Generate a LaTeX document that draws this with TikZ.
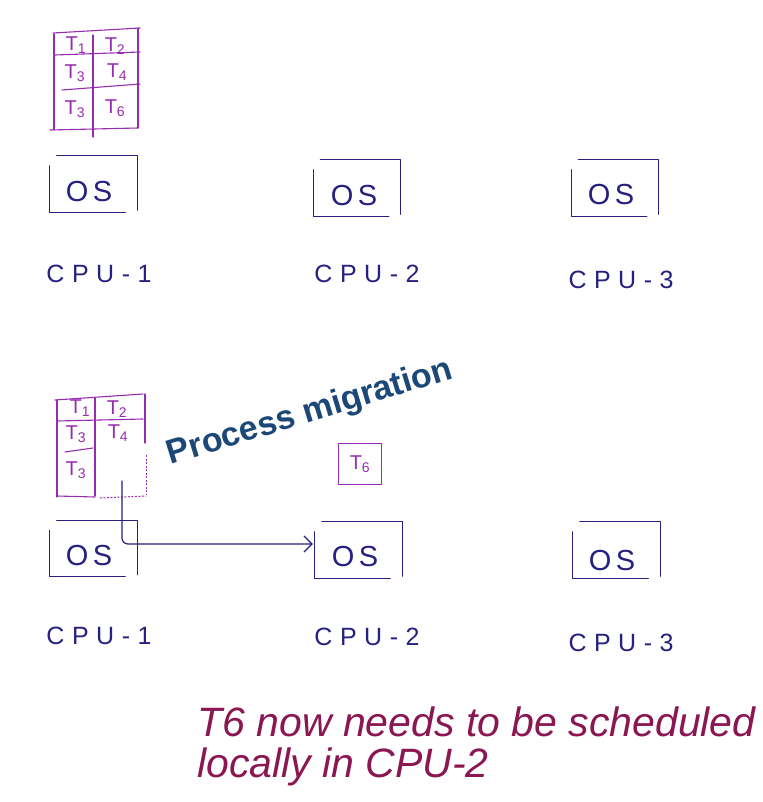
\documentclass[tikz,border=0pt]{standalone}
\usepackage{fontspec}
\setmainfont{Liberation Sans}
\usetikzlibrary{calc,arrows.meta}
\definecolor{hand}{RGB}{38,32,128}
\definecolor{pur}{RGB}{150,45,175}
\definecolor{titleblue}{RGB}{28,72,120}
\definecolor{notecol}{RGB}{138,22,82}
\tikzset{
  handline/.style={draw=hand, line width=1.2pt, line cap=round, line join=round},
  purline/.style={draw=pur, line width=1.1pt, line cap=round, line join=round},
  purdash/.style={draw=pur, line width=1pt, dash pattern=on 2pt off 1.5pt},
  frame/.style={draw=none, inner sep=0pt, minimum width=87pt, minimum height=56pt},
  ostext/.style={text=hand, font=\fontsize{29}{30}\selectfont\addfontfeatures{LetterSpace=15}, inner sep=0pt},
  cpulbl/.style={text=hand, font=\fontsize{25}{26}\selectfont\addfontfeatures{LetterSpace=30}, inner sep=0pt},
  task/.style={text=pur, font=\fontsize{20}{21}\selectfont, inner sep=0pt},
}
\newcommand\handbox[1]{%
  \draw[handline] ([yshift=-10pt]#1.north west) -- (#1.south west) -- ([xshift=-12pt]#1.south east);
  \draw[handline] ([xshift=7pt]#1.north west) -- (#1.north east) -- ([yshift=2pt]#1.south east);}
\begin{document}
\begin{tikzpicture}[x=1pt,y=-1pt]
\useasboundingbox[fill=white] (0,0) rectangle (762,802);

% ---------- top scene ----------
% task table
\draw[purline] (53,33) -- (140,28);
\draw[purline] (54,34) -- (54,130);
\draw[purline] (55,55) -- (140,52);
\draw[purline] (62,90) -- (140,84);
\draw[purline] (93,35) -- (93,137);
\draw[purline] (138,28) -- (138,128);
\draw[purline] (50,130) -- (138,128);
\node[task] (ta1) at (76,45) {T\textsubscript{1}};
\node[task] (ta2) at (115,46) {T\textsubscript{2}};
\node[task] (ta3) at (75,73) {T\textsubscript{3}};
\node[task] (ta4) at (117,72) {T\textsubscript{4}};
\node[task] (ta5) at (75,109) {T\textsubscript{3}};
\node[task] (ta6) at (115,108) {T\textsubscript{6}};

\node[frame] (b1) at (93.5,184) {};
\node[frame] (b2) at (357,188) {};
\node[frame] (b3) at (615,188) {};
\handbox{b1}\handbox{b2}\handbox{b3}
\node[ostext] (o1) at (89,192) {OS};
\node[ostext] (o2) at (354,196) {OS};
\node[ostext] (o3) at (611,195) {OS};
\node[cpulbl] (c1) at (99,274) {CPU-1};
\node[cpulbl] (c2) at (367,274) {CPU-2};
\node[cpulbl] (c3) at (621,280) {CPU-3};

% ---------- bottom scene ----------
\draw[purline] (55,400) -- (143,394);
\draw[purline] (57,400) -- (57,497);
\draw[purline] (57,421) -- (143,419);
\draw[purline] (65,452) -- (93,448);
\draw[purline] (95,398) -- (95,496);
\draw[purline] (145,394) -- (145,443);
\draw[purdash] (146,455) -- (146,495);
\draw[purline] (57,496) -- (95,497);
\draw[purdash] (100,498) -- (146,496);
\node[task] (tb1) at (80,408) {T\textsubscript{1}};
\node[task] (tb2) at (117,409) {T\textsubscript{2}};
\node[task] (tb3) at (76,434) {T\textsubscript{3}};
\node[task] (tb4) at (118,433) {T\textsubscript{4}};
\node[task] (tb5) at (76,470) {T\textsubscript{3}};

\node[task, draw=pur, line width=1.1pt, minimum width=43pt, minimum height=41pt] (t6) at (360,464) {T\textsubscript{6}};

\node[frame] (b4) at (93.5,548.5) {};
\node[frame] (b5) at (358.5,550) {};
\node[frame] (b6) at (616.5,550) {};
\handbox{b4}\handbox{b5}\handbox{b6}
\node[ostext] (o4) at (89,556) {OS};
\node[ostext] (o5) at (355,557) {OS};
\node[ostext] (o6) at (612,561) {OS};
\node[cpulbl] (c4) at (99,636) {CPU-1};
\node[cpulbl] (c5) at (367,637) {CPU-2};
\node[cpulbl] (c6) at (621,643) {CPU-3};

\coordinate (mstart) at (122,481);
\draw[handline, rounded corners=6pt, -{Straight Barb[length=8pt,width=16pt]}, shorten >=2pt]
  (mstart) |- ([yshift=6pt]b5.west);

\node[text=titleblue, font=\fontsize{34}{40}\selectfont\bfseries, rotate=17, inner sep=0pt] (pm) at (310,413) {Process migration};

\node[text=notecol, font=\fontsize{41}{41}\selectfont\itshape, align=left, anchor=north west, inner sep=0pt] (note) at (197,707) {T6 now needs to be scheduled\\locally in CPU-2};
\end{tikzpicture}
\end{document}
